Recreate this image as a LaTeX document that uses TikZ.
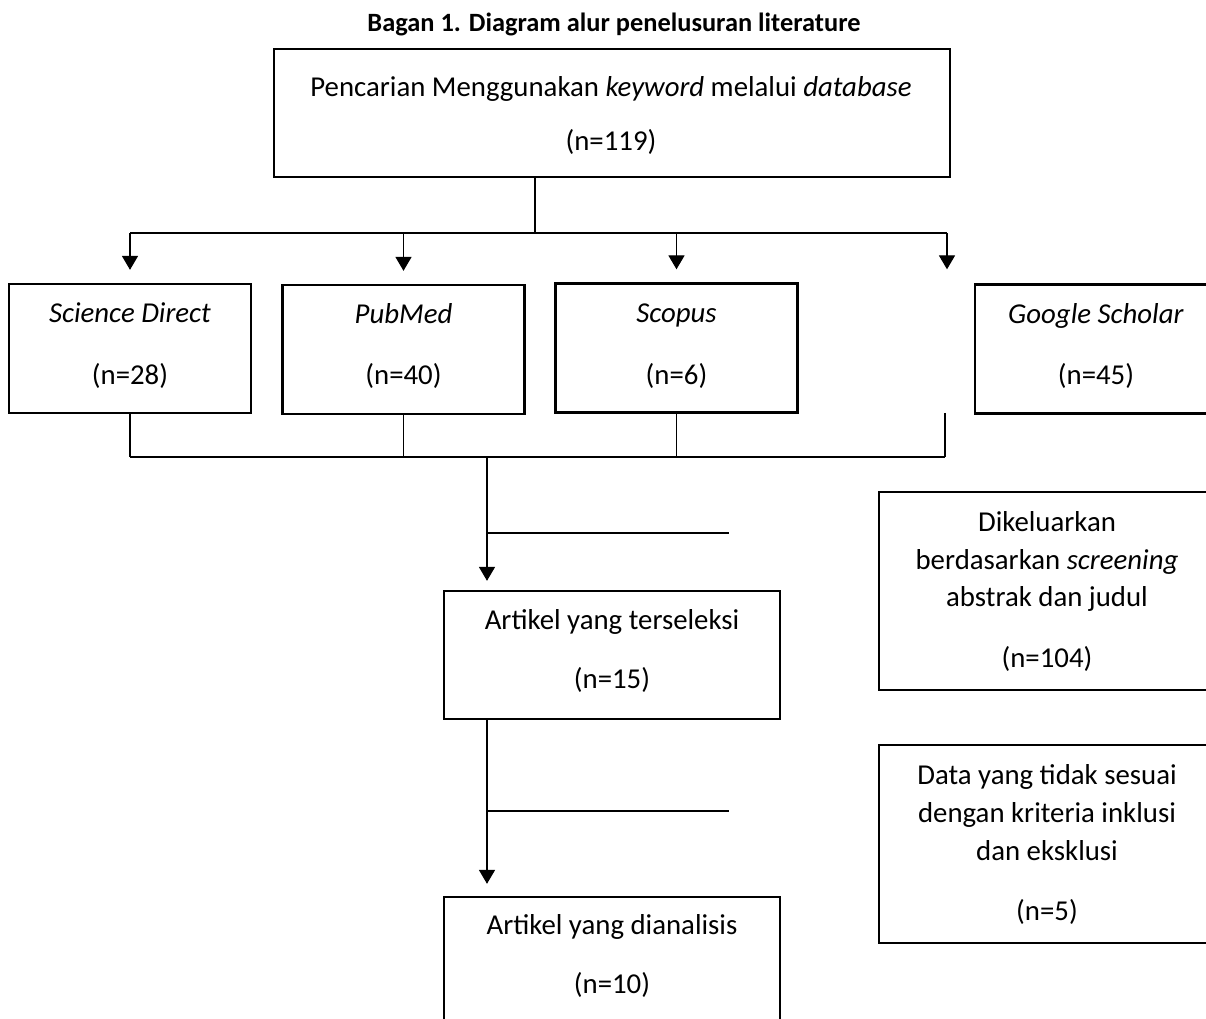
\documentclass[tikz,border=0pt]{standalone}
\usepackage{fontspec}
\setmainfont{Carlito}
\usetikzlibrary{arrows.meta,positioning,calc}
\newcommand{\pxu}{0.41667pt}

\begin{document}
\begin{tikzpicture}[x=0.41667pt,y=-0.41667pt,
    box/.style={draw, line width=1pt, inner sep=0pt},
    txt/.style={align=center, inner sep=0pt, font=\fontsize{12}{15.8}\selectfont},
    line/.style={line width=0.5pt},
    arr/.style={line width=0.5pt, -{Triangle[width=6.7pt,length=5.8pt]}}]
    \useasboundingbox (0,0) rectangle (1206,1019);

    \node[font=\fontsize{11}{13}\selectfont\bfseries] (judul) at (614,24) {Bagan 1. Diagram alur penelusuran literature};

    % kotak pencarian
    \node[box, minimum width=676*\pxu, minimum height=128*\pxu] (cari) at (612,113) {};
    \node[txt] (caritxt) at (611,115.5) {Pencarian Menggunakan \textit{keyword} melalui \textit{database}\\[7.1pt](n=119)};

    % database
    \foreach \nm/\xc/\yc/\lbl/\nn in {sd/130/348.5/Science Direct/28, pm/403.5/349.5/PubMed/40, sc/676.5/348/Scopus/6, gs/1096/349/Google Scholar/45} {
        \node[box, minimum width=242*\pxu, minimum height=129*\pxu] (\nm) at (\xc,\yc) {};
        \node[txt] (\nm txt) at (\xc,346) {\textit{\lbl}\\[10pt](n=\nn)};
    }

    % artikel
    \node[box, minimum width=336*\pxu, minimum height=128*\pxu] (sel) at (612,655) {};
    \node[txt] (seltxt) at (612,651) {Artikel yang terseleksi\\[8.4pt](n=15)};
    \node[box, minimum width=336*\pxu, minimum height=128*\pxu] (ana) at (612,961) {};
    \node[txt] (anatxt) at (612,956) {Artikel yang dianalisis\\[8.4pt](n=10)};

    % dikeluarkan
    \node[box, minimum width=336*\pxu, minimum height=198*\pxu] (kel1) at (1047,591) {};
    \node[txt] (kel1txt) at (1047,591.5) {Dikeluarkan\\berdasarkan \textit{screening}\\abstrak dan judul\\[9.6pt](n=104)};
    \node[box, minimum width=336*\pxu, minimum height=198*\pxu] (kel2) at (1047,844) {};
    \node[txt] (kel2txt) at (1047,844.5) {Data yang tidak sesuai\\dengan kriteria inklusi\\dan eksklusi\\[9.2pt](n=5)};

    % percabangan atas
    \coordinate (atas) at (535,233);
    \coordinate (atasR) at (947,233);
    \draw[line] (cari.south -| atas) -- (atas);
    \draw[line] (sd.north |- atas) -- (atasR);
    \foreach \nm in {sd,pm,sc}
        \draw[arr, shorten >=13*\pxu] (\nm.north |- atas) -- (\nm.north);
    \draw[arr, shorten >=14*\pxu] (atasR) -- (atasR |- gs.north);

    % percabangan bawah
    \coordinate (bawah) at (487,457);
    \coordinate (gskaki) at (945,413);
    \foreach \nm in {sd,pm,sc}
        \draw[line] (\nm.south) -- (\nm.south |- bawah);
    \draw[line] (gskaki) -- (gskaki |- bawah);
    \draw[line] (sd.south |- bawah) -- (gskaki |- bawah);

    \draw[arr, shorten >=9*\pxu] (bawah) -- (bawah |- sel.north);
    \coordinate (keluar1) at (729,533);
    \draw[line] (bawah |- keluar1) -- (keluar1);
    \draw[arr, shorten >=12*\pxu] (sel.south -| bawah) -- (bawah |- ana.north);
    \coordinate (keluar2) at (729,811);
    \draw[line] (bawah |- keluar2) -- (keluar2);
\end{tikzpicture}
\end{document}
